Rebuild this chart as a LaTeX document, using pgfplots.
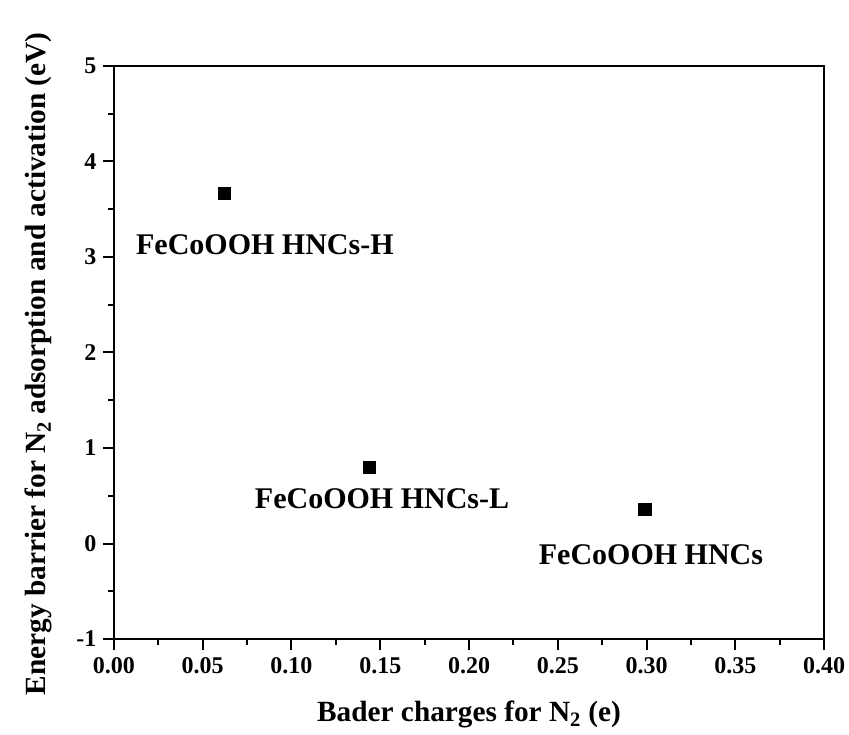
\documentclass[border=0pt]{standalone}
\usepackage{fontspec}
\setmainfont{Liberation Serif}
\usepackage{pgfplots}
\pgfplotsset{compat=1.18}
\begin{document}
\begin{tikzpicture}
\useasboundingbox (-114bp,-96bp) rectangle (735bp,639bp);
\begin{axis}[
  scale only axis, width=710bp, height=573bp,
  xmin=0, xmax=0.4, ymin=-1, ymax=5,
  axis line style={line width=2bp},
  tick pos=left, tick align=outside,
  major tick length=11bp, minor tick length=6bp,
  every tick/.style={black, line width=2bp},
  xtick={0,0.05,0.1,0.15,0.2,0.25,0.3,0.35,0.4},
  ytick={-1,0,1,2,3,4,5},
  minor x tick num=1, minor y tick num=1,
  xticklabel style={font=\fontsize{24bp}{28bp}\selectfont\bfseries,
    /pgf/number format/.cd, fixed, fixed zerofill, precision=2, assume math mode=true},
  yticklabel style={font=\fontsize{24bp}{28bp}\selectfont\bfseries,
    /pgf/number format/.cd, assume math mode=true},
  xticklabel shift=4bp, yticklabel shift=3bp,
  xlabel={Bader charges for N\textsubscript{2} (e)},
  ylabel={Energy barrier for N\textsubscript{2} adsorption and activation (eV)},
  xlabel style={font=\fontsize{29.3bp}{33bp}\selectfont\bfseries, at={(axis description cs:0.5,-0.131)}, anchor=center},
  ylabel style={font=\fontsize{29.3bp}{33bp}\selectfont\bfseries, at={(axis description cs:-0.106,0.48)}, anchor=center, rotate=0},
]
\addplot[only marks, mark=square*, mark size=6.3bp, black] coordinates {
  (0.062,3.67) (0.1438,0.80) (0.299,0.36)
};
\node[font=\fontsize{30bp}{34bp}\selectfont\bfseries, anchor=center] at (axis cs:0.085,3.13) {FeCoOOH HNCs-H};
\node[font=\fontsize{30bp}{34bp}\selectfont\bfseries, anchor=center] at (axis cs:0.151,0.466) {FeCoOOH HNCs-L};
\node[font=\fontsize{30bp}{34bp}\selectfont\bfseries, anchor=center] at (axis cs:0.3025,-0.12) {FeCoOOH HNCs};
\end{axis}
\end{tikzpicture}
\end{document}
